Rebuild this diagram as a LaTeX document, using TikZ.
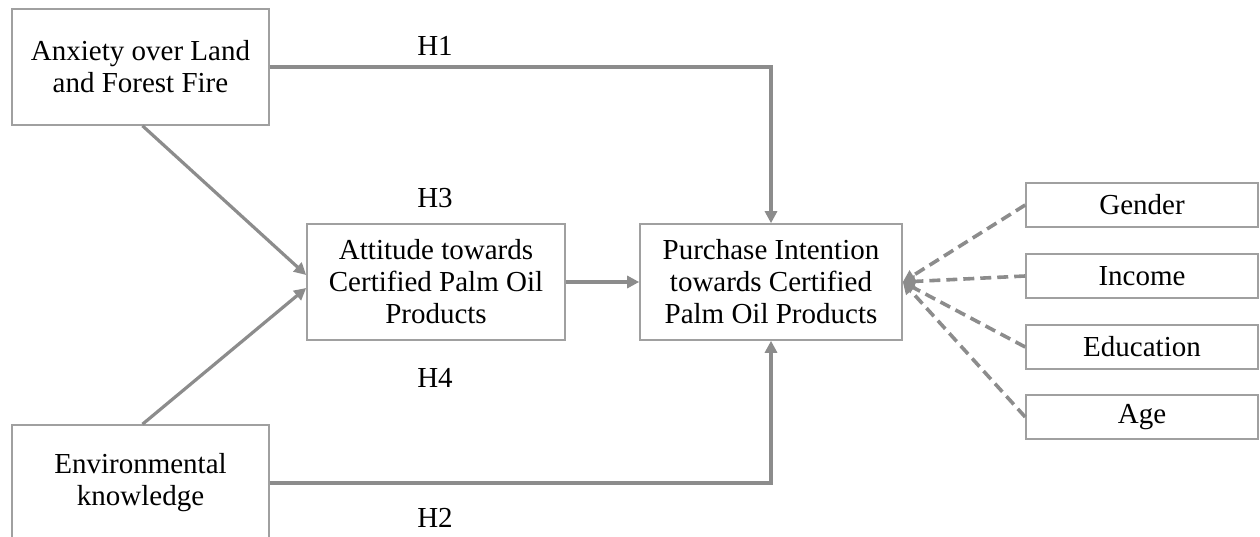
\documentclass[tikz,border=0pt]{standalone}
\usepackage{fontspec}
\setmainfont{Liberation Serif}
\usetikzlibrary{arrows.meta,calc}
\definecolor{boxgray}{HTML}{A0A0A0}
\definecolor{linegray}{HTML}{8C8C8C}
\begin{document}
\begin{tikzpicture}[x=1pt,y=-1pt,
  box/.style={draw=boxgray,line width=1.6pt,align=center,inner sep=0pt,
    font=\fontsize{29}{32}\selectfont},
  bigbox/.style={box,minimum height=116pt},
  smallbox/.style={box,minimum width=232pt,minimum height=44pt},
  conn/.style={draw=linegray,line width=3.2pt,-{Triangle[length=12pt,width=12pt]}},
  dconn/.style={conn,line width=3.6pt,dash pattern=on 11pt off 6pt},
  hlab/.style={font=\fontsize{29}{32}\selectfont,inner sep=0pt}]
\useasboundingbox (0,0) rectangle (1260,537);
\node[bigbox,minimum width=257pt] (A) at (140.5,67) {Anxiety over Land\\and Forest Fire};
\node[bigbox,minimum width=257pt] (E) at (140.5,483) {Environmental\\knowledge};
\node[bigbox,minimum width=258pt] (T) at (436,282) {Attitude towards\\Certified Palm Oil\\Products};
\node[bigbox,minimum width=262pt] (P) at (771,282) {Purchase Intention\\towards Certified\\Palm Oil Products};
\node[smallbox] (G) at (1142,205) {Gender};
\node[smallbox] (I) at (1142,276) {Income};
\node[smallbox] (D) at (1142,347) {Education};
\node[smallbox] (Y) at (1142,417) {Age};
\node[hlab] (h1) at (435,46) {H1};
\node[hlab] (h3) at (435,198) {H3};
\node[hlab] (h4) at (435,378) {H4};
\node[hlab] (h2) at (435,518) {H2};
\draw[conn] (A.east) -| (P.north);
\draw[conn] (E.east) -| (P.south);
\draw[conn] ([xshift=2pt]A.south) -- ([yshift=7pt]T.west);
\draw[conn] ([xshift=2pt]E.north) -- ([yshift=-6pt]T.west);
\draw[conn] (T.east) -- (P.west);
\draw[dconn] (G.west) -- (P.east);
\draw[dconn] (I.west) -- (P.east);
\draw[dconn] (D.west) -- (P.east);
\draw[dconn] (Y.west) -- (P.east);
\end{tikzpicture}
\end{document}
